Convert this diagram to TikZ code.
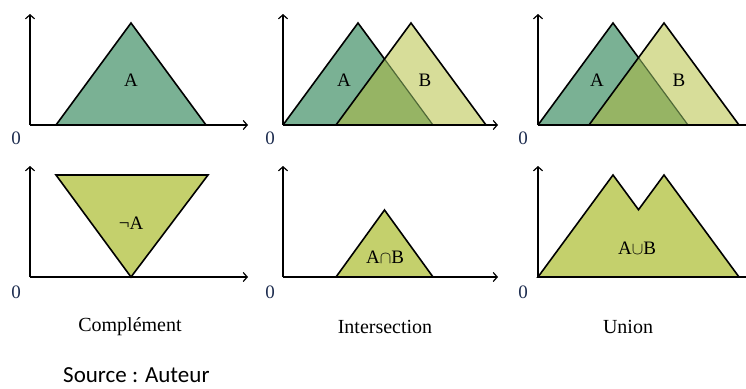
\documentclass[tikz,border=0pt]{standalone}
\usepackage{fontspec}
\setmainfont{Liberation Serif}
\newfontfamily\srcfont{Carlito}
\usetikzlibrary{arrows.meta}
\definecolor{setA}{RGB}{122,177,148}
\definecolor{setB}{RGB}{215,221,153}
\definecolor{setAB}{RGB}{150,180,100}
\definecolor{setOp}{RGB}{196,208,108}
\definecolor{innerEdge}{RGB}{80,105,55}
\definecolor{zeroblue}{RGB}{30,45,80}
\tikzset{
  axis/.style={->, line width=2.2pt},
  edge/.style={line width=1.6pt, line join=miter},
  lbl/.style={font=\fontsize{19}{19}\selectfont},
  zero/.style={font=\fontsize{19}{19}\selectfont, text=zeroblue},
  caption/.style={font=\fontsize{20}{20}\selectfont}
}

\begin{document}
\begin{tikzpicture}[x=1pt, y=-1pt, >={Straight Barb[length=4pt, width=9pt, line width=1.2pt]}]
    \useasboundingbox (0,0) rectangle (746,388);
    % Top left: set A
    \coordinate (O1) at (30,125);
    \filldraw[edge, fill=setA] (56,125) -- (131,23) -- (206,125) -- cycle;
    \node[lbl] (A1) at (131,80) {A};
    \draw[axis] (O1) -- (248,125);
    \draw[axis] (O1) -- (30,14);
    \node[zero] (z1) at (16,138) {0};
    % Top middle: A and B
    \coordinate (O2) at (283,125);
    \fill[setA] (283,125) -- (358,23) -- (433,125) -- cycle;
    \fill[setB] (336,125) -- (411,23) -- (486,125) -- cycle;
    \fill[setAB] (336,125) -- (384.5,59) -- (433,125) -- cycle;
    \draw[edge] (384.5,59) -- (358,23) -- (283,125);
    \draw[edge, innerEdge, line width=1.2pt] (384.5,59) -- (433,125);
    \draw[edge] (336,125) -- (411,23) -- (486,125);
    \node[lbl] (A2) at (344,80) {A};
    \node[lbl] (B2) at (425,80) {B};
    \draw[axis] (O2) -- (498,125);
    \draw[axis] (O2) -- (283,14);
    \node[zero] (z2) at (270,138) {0};
    % Top right: A and B
    \coordinate (O3) at (538,125);
    \fill[setA] (538,125) -- (613,23) -- (688,125) -- cycle;
    \fill[setB] (589,125) -- (664,23) -- (739,125) -- cycle;
    \fill[setAB] (589,125) -- (638.5,57.7) -- (688,125) -- cycle;
    \draw[edge] (638.5,57.7) -- (613,23) -- (538,125);
    \draw[edge, innerEdge, line width=1.2pt] (638.5,57.7) -- (688,125);
    \draw[edge] (589,125) -- (664,23) -- (739,125);
    \node[lbl] (A3) at (597,80) {A};
    \node[lbl] (B3) at (679,80) {B};
    \draw[axis] (O3) -- (752,125);
    \draw[axis] (O3) -- (538,14);
    \node[zero] (z3) at (523,138) {0};
    % Bottom left: complement
    \coordinate (O4) at (30,277);
    \filldraw[edge, fill=setOp] (56,175) -- (208,175) -- (131,277) -- cycle;
    \node[lbl] (notA) at (131,223) {¬A};
    \draw[axis] (O4) -- (248,277);
    \draw[axis] (O4) -- (30,166);
    \node[zero] (z4) at (16,292) {0};
    % Bottom middle: intersection
    \coordinate (O5) at (283,277);
    \filldraw[edge, fill=setOp] (336,277) -- (384.5,210) -- (433,277) -- cycle;
    \node[lbl] (AnB) at (385,257) {A$\cap$B};
    \draw[axis] (O5) -- (498,277);
    \draw[axis] (O5) -- (283,166);
    \node[zero] (z5) at (270,292) {0};
    % Bottom right: union
    \coordinate (O6) at (538,277);
    \filldraw[edge, fill=setOp] (538,277) -- (613,175) -- (638.5,209.7) -- (664,175) -- (739,277) -- cycle;
    \node[lbl] (AuB) at (637,248) {A$\cup$B};
    \draw[axis] (O6) -- (752,277);
    \draw[axis] (O6) -- (538,166);
    \node[zero] (z6) at (523,292) {0};
    % Captions
    \node[caption] (c1) at (130,327) {Complément};
    \node[caption] (c2) at (385,327) {Intersection};
    \node[caption] (c3) at (628,327) {Union};
    \node[font=\srcfont\fontsize{23}{23}\selectfont, anchor=west, inner sep=0pt] (src) at (63,375) {Source : Auteur};
\end{tikzpicture}
\end{document}
